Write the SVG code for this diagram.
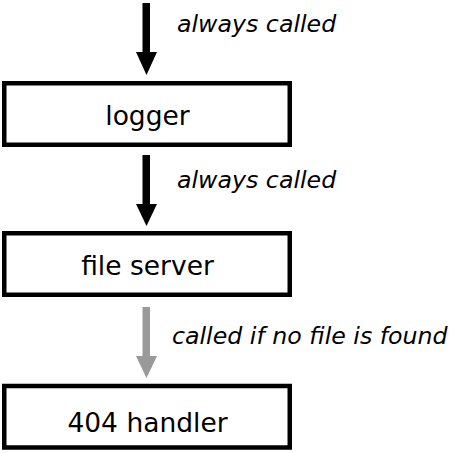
<svg xmlns="http://www.w3.org/2000/svg" width="454" height="453" viewBox="0 0 454 453">
<style>
.box{fill:#fff;stroke:#000;stroke-width:4.5}
.lbl{font-family:"DejaVu Sans",Verdana,sans-serif;font-size:26.5px;fill:#000;text-anchor:middle}
.note{font-family:"DejaVu Sans",Verdana,sans-serif;font-size:23.7px;font-style:italic;fill:#000}
</style>
<rect width="454" height="453" fill="#fff"/>
<g id="connectors">
<g id="arrow1" fill="#000"><rect x="142.5" y="3" width="7.5" height="50"/><polygon points="136,52 157,52 146.5,75"/></g>
<g id="arrow2" fill="#000"><rect x="142.5" y="155" width="7.5" height="50"/><polygon points="136,204 157,204 146.5,226"/></g>
<g id="arrow3" fill="#999"><rect x="142.5" y="307" width="7.5" height="50"/><polygon points="136,356 157,356 146.5,378"/></g>
<text class="note" x="177" y="32">always called</text>
<text class="note" x="177" y="188">always called</text>
<text class="note" x="172" y="344">called if no file is found</text>
</g>
<g id="logger"><rect class="box" x="4.25" y="83.25" width="285.5" height="61.5"/><text class="lbl" x="147.5" y="125">logger</text></g>
<g id="fileserver"><rect class="box" x="4.25" y="233.25" width="285.5" height="61.5"/><text class="lbl" x="147.5" y="275">file server</text></g>
<g id="handler404"><rect class="box" x="4.25" y="386" width="285.5" height="61.5"/><text class="lbl" x="147.5" y="432">404 handler</text></g>
</svg>
